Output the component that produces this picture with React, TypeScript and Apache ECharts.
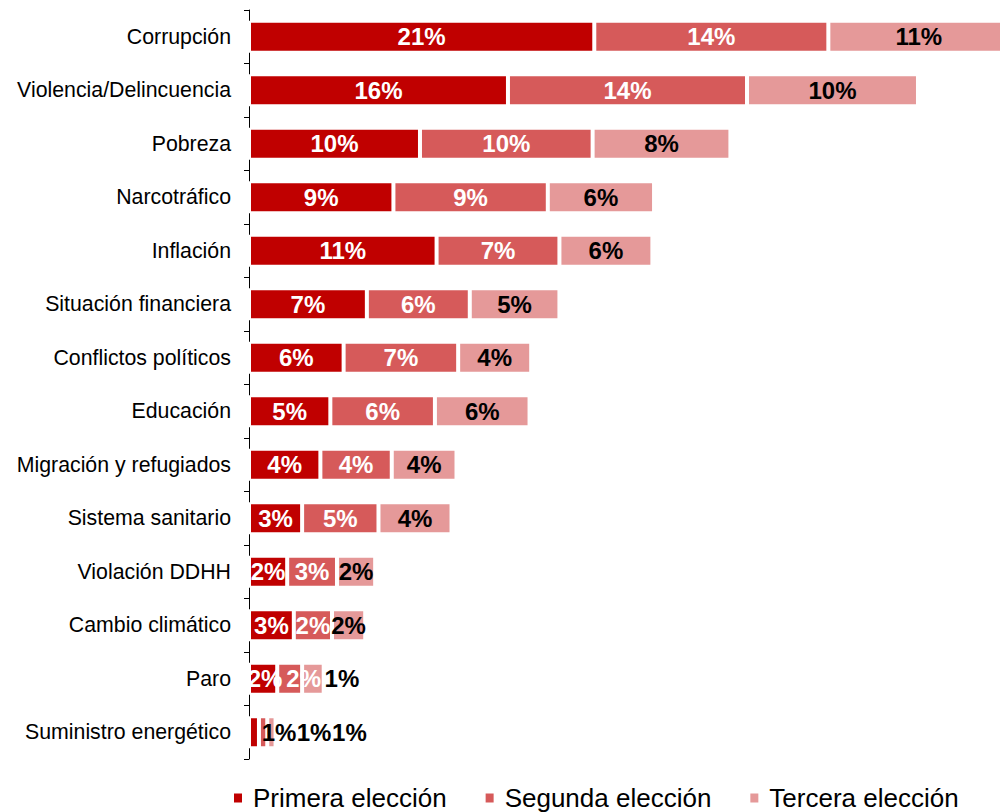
import React, { useEffect, useRef } from "react";
import * as echarts from "echarts";

const categories = [
  "Corrupción",
  "Violencia/Delincuencia",
  "Pobreza",
  "Narcotráfico",
  "Inflación",
  "Situación financiera",
  "Conflictos políticos",
  "Educación",
  "Migración y refugiados",
  "Sistema sanitario",
  "Violación DDHH",
  "Cambio climático",
  "Paro",
  "Suministro energético",
];

const primera = [20.8, 15.6, 10.3, 8.7, 11.3, 7.1, 5.7, 4.9, 4.3, 3.2, 2.3, 2.7, 1.7, 0.6];
const segunda = [14.1, 14.4, 10.4, 9.3, 7.4, 6.2, 6.9, 6.3, 4.3, 4.6, 3.0, 2.3, 1.5, 0.5];
const tercera = [10.9, 10.3, 8.3, 6.4, 5.6, 5.4, 4.4, 5.7, 3.9, 4.4, 2.3, 2.0, 1.3, 0.5];

const seriesNames = ["Primera elección", "Segunda elección", "Tercera elección"];
const seriesColors = ["#C00000", "#D65A5A", "#E59999"];
const labelColors = ["#FFFFFF", "#FFFFFF", "#000000"];

// label position overrides for crowded small bars: "seriesIndex-categoryIndex"
const labelOverrides: Record<string, { dx: number; color?: string }> = {
  "0-12": { dx: 2 },
  "1-12": { dx: 14 },
  "2-12": { dx: 29 },
  "0-13": { dx: 25, color: "#000000" },
  "1-13": { dx: 51, color: "#000000" },
  "2-13": { dx: 78, color: "#000000" },
};

const FONT = "'Liberation Sans', Arial, sans-serif";

export default function App() {
  const ref = useRef<HTMLDivElement>(null);
  useEffect(() => {
    if (!ref.current) return;
    const chart = echarts.init(ref.current, undefined, { renderer: "svg" });
    const all = [primera, segunda, tercera];
    const series = all.map((vals, si) => ({
      name: seriesNames[si],
      type: "bar",
      stack: "total",
      barWidth: 32,
      clip: false,
      itemStyle: { color: seriesColors[si], borderColor: "#FFFFFF", borderWidth: 2 },
      label: {
        show: true,
        position: "inside",
        color: labelColors[si],
        fontFamily: FONT,
        fontSize: 24,
        fontWeight: "bold",
        formatter: (p: any) => `${Math.round(p.value)}%`,
      },
      data: vals.map((v, ci) => {
        const o = labelOverrides[`${si}-${ci}`];
        if (!o) return v;
        return {
          value: v,
          label: { offset: [o.dx, 0], color: o.color ?? labelColors[si] },
        };
      }),
    }));
    chart.setOption({
      animation: false,
      textStyle: { fontFamily: FONT },
      grid: {
        left: 249,
        top: 10,
        width: 763.6,
        height: 749,
        containLabel: false,
        outerBoundsMode: "none",
      },
      xAxis: { type: "value", min: 0, max: 46, show: false },
      yAxis: {
        type: "category",
        data: categories,
        inverse: true,
        axisLine: { show: true, lineStyle: { color: "#000000", width: 1 } },
        axisTick: { show: true, length: 5, lineStyle: { color: "#000000" } },
        axisLabel: { color: "#000000", fontSize: 21.3, fontFamily: FONT, margin: 18 },
      },
      legend: {
        data: seriesNames,
        left: 232,
        top: 785,
        padding: 0,
        icon: "rect",
        itemWidth: 10,
        itemHeight: 11,
        itemGap: 37,
        textStyle: {
          fontSize: 26,
          lineHeight: 26,
          color: "#000000",
          fontFamily: FONT,
          padding: [0, 0, 0, 5],
        },
      },
      series,
    });
    return () => chart.dispose();
  }, []);
  return (
    <div
      ref={ref}
      style={{ position: "absolute", left: 0, top: 0, width: 1000, height: 812 }}
    />
  );
}
